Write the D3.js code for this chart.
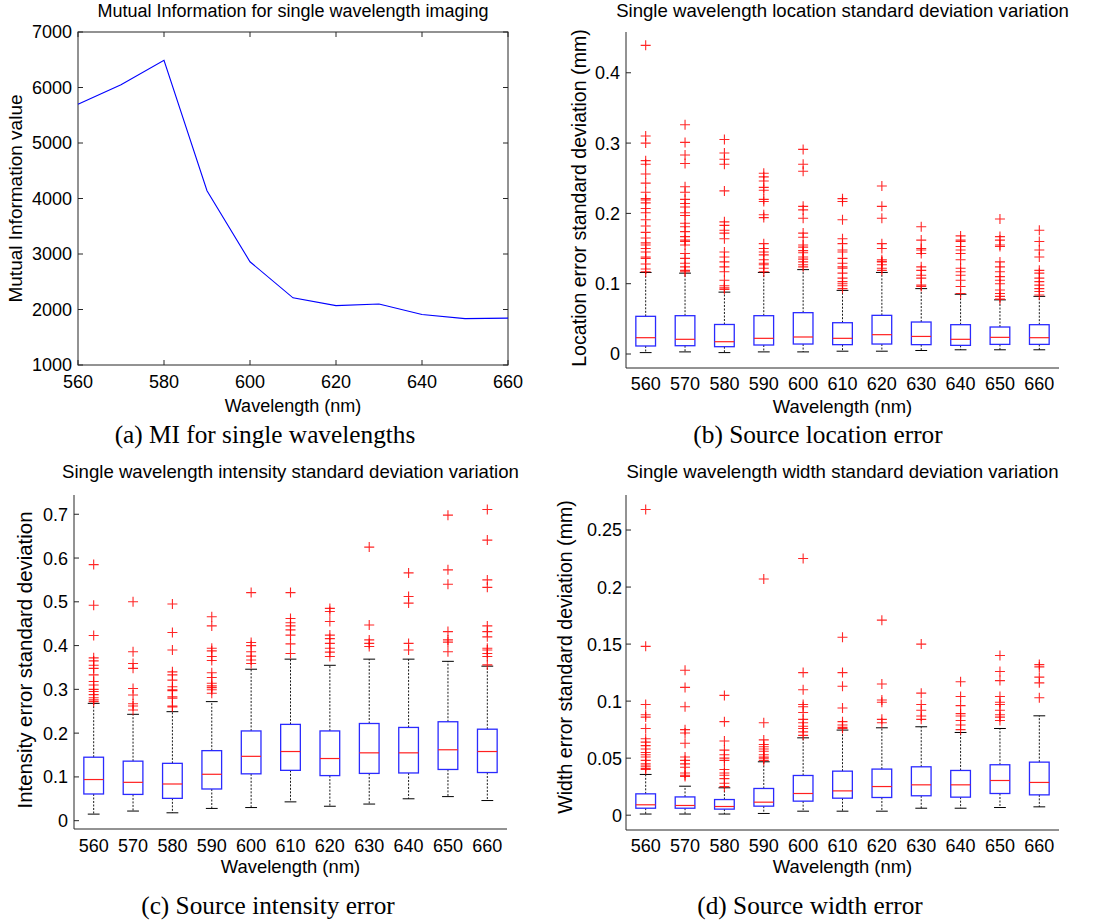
<!DOCTYPE html>
<html>
<head>
<meta charset="utf-8">
<script src="https://cdn.jsdelivr.net/npm/d3@7/dist/d3.min.js"></script>
<style>
  html, body { margin: 0; padding: 0; background: #fff; }
  svg { display: block; }
  text { font-family: "Liberation Sans", Arial, sans-serif; fill: #000; }
  .caption { font-family: "Liberation Serif", "Times New Roman", serif; }
</style>
</head>
<body>
<svg id="fig" width="1109" height="924"></svg>
<script>
// Wavelengths (nm) shared by every panel
const wavelengths = [560, 570, 580, 590, 600, 610, 620, 630, 640, 650, 660];

// (a) mutual information per wavelength
const miValues = [5700, 6050, 6490, 4140, 2860, 2210, 2070, 2100, 1910, 1835, 1845];
const miXTicks = [560, 580, 600, 620, 640, 660];
const miYTicks = [1000, 2000, 3000, 4000, 5000, 6000, 7000];

// (b) location error standard deviation (mm): box statistics
const locLo  = [0.002, 0.003, 0.002, 0.003, 0.003, 0.004, 0.004, 0.005, 0.006, 0.006, 0.006];
const locQ1  = [0.0114, 0.0118, 0.0104, 0.0128, 0.0142, 0.0133, 0.0142, 0.0133, 0.0123, 0.0137, 0.0137];
const locMed = [0.0232, 0.0209, 0.0175, 0.0223, 0.0242, 0.0223, 0.0275, 0.025, 0.0209, 0.0237, 0.0232];
const locQ3  = [0.0536, 0.0545, 0.042, 0.0545, 0.0588, 0.0445, 0.055, 0.0455, 0.0417, 0.0384, 0.0417];
const locHi  = [0.116, 0.115, 0.088, 0.116, 0.12, 0.0905, 0.116, 0.093, 0.085, 0.077, 0.082];
const locOut = [
  [0.439, 0.310, 0.300, 0.275, 0.270, 0.256, 0.243, 0.230, 0.221, 0.219, 0.215, 0.207, 0.201, 0.191, 0.182, 0.173, 0.165, 0.158, 0.155, 0.150, 0.145, 0.138, 0.136, 0.128, 0.121, 0.117],
  [0.326, 0.301, 0.283, 0.271, 0.238, 0.230, 0.220, 0.214, 0.209, 0.201, 0.197, 0.186, 0.181, 0.174, 0.167, 0.162, 0.160, 0.155, 0.143, 0.136, 0.129, 0.124, 0.119, 0.117],
  [0.305, 0.286, 0.277, 0.270, 0.232, 0.188, 0.183, 0.176, 0.172, 0.164, 0.145, 0.138, 0.131, 0.124, 0.117, 0.105, 0.097, 0.094, 0.092],
  [0.257, 0.252, 0.246, 0.237, 0.233, 0.220, 0.217, 0.198, 0.194, 0.157, 0.150, 0.145, 0.141, 0.134, 0.129, 0.127, 0.122, 0.117],
  [0.291, 0.270, 0.260, 0.210, 0.205, 0.193, 0.172, 0.166, 0.155, 0.152, 0.147, 0.144, 0.138, 0.135, 0.131, 0.127, 0.124],
  [0.221, 0.217, 0.191, 0.164, 0.157, 0.148, 0.145, 0.136, 0.129, 0.124, 0.122, 0.115, 0.108, 0.103, 0.100, 0.097, 0.093],
  [0.239, 0.210, 0.193, 0.157, 0.150, 0.134, 0.132, 0.131, 0.127, 0.122, 0.119],
  [0.181, 0.162, 0.150, 0.148, 0.143, 0.124, 0.119, 0.112, 0.108, 0.098, 0.096],
  [0.168, 0.162, 0.160, 0.153, 0.148, 0.143, 0.134, 0.122, 0.117, 0.112, 0.105, 0.096, 0.086],
  [0.192, 0.167, 0.162, 0.155, 0.153, 0.131, 0.124, 0.117, 0.110, 0.105, 0.100, 0.091, 0.086, 0.082, 0.078],
  [0.176, 0.160, 0.148, 0.138, 0.119, 0.115, 0.108, 0.103, 0.098, 0.093, 0.089, 0.084]
];
const locYTicks = [0, 0.1, 0.2, 0.3, 0.4];

// (c) intensity error standard deviation: box statistics
const intLo  = [0.015, 0.022, 0.018, 0.028, 0.030, 0.043, 0.033, 0.038, 0.050, 0.055, 0.046];
const intQ1  = [0.061, 0.060, 0.051, 0.0724, 0.107, 0.115, 0.103, 0.108, 0.109, 0.117, 0.110];
const intMed = [0.094, 0.0876, 0.0838, 0.106, 0.147, 0.158, 0.142, 0.155, 0.155, 0.162, 0.158];
const intQ3  = [0.145, 0.136, 0.131, 0.160, 0.205, 0.220, 0.205, 0.222, 0.213, 0.226, 0.209];
const intHi  = [0.268, 0.243, 0.249, 0.272, 0.346, 0.369, 0.355, 0.369, 0.369, 0.364, 0.353];
const intOut = [
  [0.585, 0.492, 0.423, 0.372, 0.365, 0.355, 0.348, 0.333, 0.318, 0.310, 0.300, 0.295, 0.288, 0.281, 0.276, 0.272],
  [0.500, 0.386, 0.359, 0.348, 0.302, 0.287, 0.267, 0.262, 0.253],
  [0.495, 0.430, 0.390, 0.340, 0.333, 0.321, 0.306, 0.299, 0.297, 0.283, 0.280, 0.262, 0.260],
  [0.466, 0.445, 0.394, 0.388, 0.375, 0.366, 0.338, 0.327, 0.314, 0.308, 0.304, 0.299, 0.291],
  [0.521, 0.407, 0.400, 0.386, 0.376, 0.367, 0.359],
  [0.521, 0.462, 0.452, 0.445, 0.436, 0.424, 0.404, 0.382],
  [0.485, 0.478, 0.455, 0.424, 0.416, 0.405, 0.394, 0.385, 0.375],
  [0.625, 0.447, 0.413, 0.405, 0.398],
  [0.566, 0.512, 0.497, 0.405, 0.390],
  [0.698, 0.573, 0.540, 0.432, 0.413, 0.408, 0.386],
  [0.711, 0.641, 0.550, 0.533, 0.445, 0.432, 0.420, 0.394, 0.390, 0.382, 0.375, 0.356]
];
const intYTicks = [0, 0.1, 0.2, 0.3, 0.4, 0.5, 0.6, 0.7];

// (d) width error standard deviation (mm): box statistics
const widLo  = [0.001, 0.001, 0.001, 0.0015, 0.0035, 0.0035, 0.0035, 0.0061, 0.0061, 0.0067, 0.0073];
const widQ1  = [0.0061, 0.0061, 0.0053, 0.0079, 0.0123, 0.0149, 0.0155, 0.017, 0.0158, 0.019, 0.0178];
const widMed = [0.0091, 0.0085, 0.0076, 0.0114, 0.019, 0.0213, 0.0251, 0.0266, 0.0266, 0.0304, 0.0287];
const widQ3  = [0.0187, 0.016, 0.0137, 0.0234, 0.0348, 0.0386, 0.0404, 0.0424, 0.0392, 0.0442, 0.0465];
const widHi  = [0.0357, 0.0254, 0.024, 0.0468, 0.0678, 0.0746, 0.0766, 0.0775, 0.0725, 0.076, 0.0871];
const widOut = [
  [0.268, 0.148, 0.097, 0.088, 0.086, 0.076, 0.067, 0.064, 0.061, 0.058, 0.055, 0.053, 0.051, 0.048, 0.045, 0.043, 0.041, 0.040],
  [0.127, 0.112, 0.095, 0.075, 0.072, 0.063, 0.051, 0.048, 0.045, 0.042, 0.037, 0.035, 0.034],
  [0.105, 0.082, 0.065, 0.057, 0.053, 0.050, 0.048, 0.040, 0.037, 0.035, 0.032, 0.028, 0.025],
  [0.207, 0.081, 0.066, 0.062, 0.060, 0.058, 0.056, 0.053, 0.051, 0.050, 0.048],
  [0.225, 0.125, 0.110, 0.097, 0.095, 0.090, 0.084, 0.081, 0.078, 0.076, 0.073, 0.070],
  [0.156, 0.125, 0.113, 0.094, 0.082, 0.079, 0.077, 0.076],
  [0.171, 0.115, 0.101, 0.099, 0.084, 0.081],
  [0.150, 0.107, 0.097, 0.092, 0.087, 0.084],
  [0.117, 0.104, 0.096, 0.089, 0.087, 0.083, 0.079, 0.075],
  [0.140, 0.126, 0.118, 0.104, 0.099, 0.097, 0.092, 0.088, 0.086, 0.083],
  [0.132, 0.130, 0.121, 0.116, 0.103]
];
const widYTicks = [0, 0.05, 0.1, 0.15, 0.2, 0.25];

const svg = d3.select("#fig");
const FS = 18;
const axisColor = "#262626";

// ---------- (a) line chart ----------
(function () {
  const L = 78, R = 508, T = 32, B = 365;
  const x = d3.scaleLinear().domain([560, 660]).range([L, R]);
  const y = d3.scaleLinear().domain([1000, 7000]).range([B, T]);
  const g = svg.append("g");

  g.append("rect").attr("x", L).attr("y", T).attr("width", R - L).attr("height", B - T)
    .attr("fill", "none").attr("stroke", axisColor).attr("stroke-width", 1);

  // inward ticks on all four sides
  const tk = 5;
  miXTicks.forEach(v => {
    g.append("line").attr("x1", x(v)).attr("x2", x(v)).attr("y1", B).attr("y2", B - tk).attr("stroke", axisColor);
    g.append("line").attr("x1", x(v)).attr("x2", x(v)).attr("y1", T).attr("y2", T + tk).attr("stroke", axisColor);
    g.append("text").attr("x", x(v)).attr("y", 388).attr("text-anchor", "middle")
      .style("font-size", FS + "px").text(v);
  });
  miYTicks.forEach(v => {
    g.append("line").attr("x1", L).attr("x2", L + tk).attr("y1", y(v)).attr("y2", y(v)).attr("stroke", axisColor);
    g.append("line").attr("x1", R).attr("x2", R - tk).attr("y1", y(v)).attr("y2", y(v)).attr("stroke", axisColor);
    g.append("text").attr("x", 72).attr("y", y(v)).attr("dy", "0.36em").attr("text-anchor", "end")
      .style("font-size", FS + "px").text(v);
  });

  const line = d3.line().x((d, i) => x(wavelengths[i])).y(d => y(d));
  g.append("path").datum(miValues).attr("d", line)
    .attr("fill", "none").attr("stroke", "#0000ff").attr("stroke-width", 1.1);

  g.append("text").attr("x", (L + R) / 2).attr("y", 17).attr("text-anchor", "middle")
    .style("font-size", FS + "px").text("Mutual Information for single wavelength imaging");
  g.append("text").attr("x", (L + R) / 2).attr("y", 412).attr("text-anchor", "middle")
    .style("font-size", FS + "px").text("Wavelength (nm)");
  g.append("text").attr("transform", `translate(22,${(T + B) / 2}) rotate(-90)`).attr("text-anchor", "middle")
    .style("font-size", "19px").text("Mutual Information value");
})();

// ---------- box plot panels ----------
function boxPanel(o) {
  const { L, R, T, B, domain, ticks, fmt, lo, q1, med, q3, hi, out } = o;
  const x = d3.scaleLinear().domain([0.5, wavelengths.length + 0.5]).range([L, R]);
  const y = d3.scaleLinear().domain(domain).range([B, T]);
  const g = svg.append("g");

  // left and bottom axis lines
  g.append("line").attr("x1", L).attr("x2", L).attr("y1", T).attr("y2", B).attr("stroke", axisColor);
  g.append("line").attr("x1", L).attr("x2", R).attr("y1", B).attr("y2", B).attr("stroke", axisColor);

  ticks.forEach(v => {
    g.append("line").attr("x1", L).attr("x2", L + 5).attr("y1", y(v)).attr("y2", y(v)).attr("stroke", axisColor);
    g.append("text").attr("x", o.tickRight).attr("y", y(v)).attr("dy", "0.36em").attr("text-anchor", "end")
      .style("font-size", FS + "px").text(fmt(v));
  });

  const boxW = x(1.25) - x(1);   // half width of box (0.25 units)
  const capW = x(1.15) - x(1);

  wavelengths.forEach((w, i) => {
    const cx = x(i + 1);
    // whiskers (dashed black)
    g.append("line").attr("x1", cx).attr("x2", cx).attr("y1", y(q3[i])).attr("y2", y(hi[i]))
      .attr("stroke", "#000").attr("stroke-dasharray", "2,1.5").attr("stroke-width", 0.9);
    g.append("line").attr("x1", cx).attr("x2", cx).attr("y1", y(q1[i])).attr("y2", y(lo[i]))
      .attr("stroke", "#000").attr("stroke-dasharray", "2,1.5").attr("stroke-width", 0.9);
    // caps
    [hi[i], lo[i]].forEach(v => {
      g.append("line").attr("x1", cx - capW).attr("x2", cx + capW).attr("y1", y(v)).attr("y2", y(v))
        .attr("stroke", "#000").attr("stroke-width", 1);
    });
    // box
    g.append("rect").attr("x", cx - boxW).attr("y", y(q3[i])).attr("width", 2 * boxW)
      .attr("height", y(q1[i]) - y(q3[i])).attr("fill", "none").attr("stroke", "#2a2aff").attr("stroke-width", 1.3);
    // median
    g.append("line").attr("x1", cx - boxW).attr("x2", cx + boxW).attr("y1", y(med[i])).attr("y2", y(med[i]))
      .attr("stroke", "#ff2020").attr("stroke-width", 1.2);
    // outliers as '+' markers
    out[i].forEach(v => {
      const py = y(v);
      g.append("path").attr("d", `M${cx - 5},${py}H${cx + 5}M${cx},${py - 5}V${py + 5}`)
        .attr("stroke", "#ff0000").attr("stroke-opacity", 0.85).attr("stroke-width", 1.1).attr("fill", "none");
    });
    // category labels
    g.append("text").attr("x", cx).attr("y", o.xLabY).attr("text-anchor", "middle")
      .style("font-size", FS + "px").text(w);
  });

  g.append("text").attr("x", (L + R) / 2).attr("y", o.titleY).attr("text-anchor", "middle")
    .style("font-size", "18.6px").text(o.title);
  g.append("text").attr("x", (L + R) / 2).attr("y", o.xTitleY).attr("text-anchor", "middle")
    .style("font-size", "18.4px").text("Wavelength (nm)");
  g.append("text").attr("transform", `translate(${o.yTitleX},${o.yTitleY}) rotate(-90)`).attr("text-anchor", "middle")
    .style("font-size", o.yTitleSize + "px").text(o.yTitle);
}

const fmtTick = d => d === 0 ? "0" : String(+d.toFixed(2));

boxPanel({
  L: 626, R: 1059, T: 32, B: 368, domain: [-0.0199, 0.458], ticks: locYTicks, fmt: fmtTick,
  lo: locLo, q1: locQ1, med: locMed, q3: locQ3, hi: locHi, out: locOut,
  tickRight: 620, xLabY: 390, xTitleY: 413, titleY: 17, yTitleX: 586, yTitleY: 198, yTitleSize: 19.6,
  title: "Single wavelength location standard deviation variation",
  yTitle: "Location error standard deviation (mm)"
});

boxPanel({
  L: 74, R: 507, T: 495, B: 829, domain: [-0.019, 0.744], ticks: intYTicks, fmt: fmtTick,
  lo: intLo, q1: intQ1, med: intMed, q3: intQ3, hi: intHi, out: intOut,
  tickRight: 68, xLabY: 852, xTitleY: 873, titleY: 478, yTitleX: 32, yTitleY: 660, yTitleSize: 20.4,
  title: "Single wavelength intensity standard deviation variation",
  yTitle: "Intensity error standard deviation"
});

boxPanel({
  L: 626, R: 1059, T: 495, B: 830, domain: [-0.013, 0.2807], ticks: widYTicks, fmt: fmtTick,
  lo: widLo, q1: widQ1, med: widMed, q3: widQ3, hi: widHi, out: widOut,
  tickRight: 622, xLabY: 852, xTitleY: 873, titleY: 478, yTitleX: 572, yTitleY: 657, yTitleSize: 19.6,
  title: "Single wavelength width standard deviation variation",
  yTitle: "Width error standard deviation (mm)"
});

// sub-figure captions
const captions = [
  { x: 265, y: 443, t: "(a) MI for single wavelengths" },
  { x: 818, y: 443, t: "(b) Source location error" },
  { x: 268, y: 914, t: "(c) Source intensity error" },
  { x: 810, y: 914, t: "(d) Source width error" }
];
captions.forEach(c => {
  svg.append("text").attr("class", "caption").attr("x", c.x).attr("y", c.y)
    .attr("text-anchor", "middle").style("font-size", "25.3px").text(c.t);
});
</script>
</body>
</html>
